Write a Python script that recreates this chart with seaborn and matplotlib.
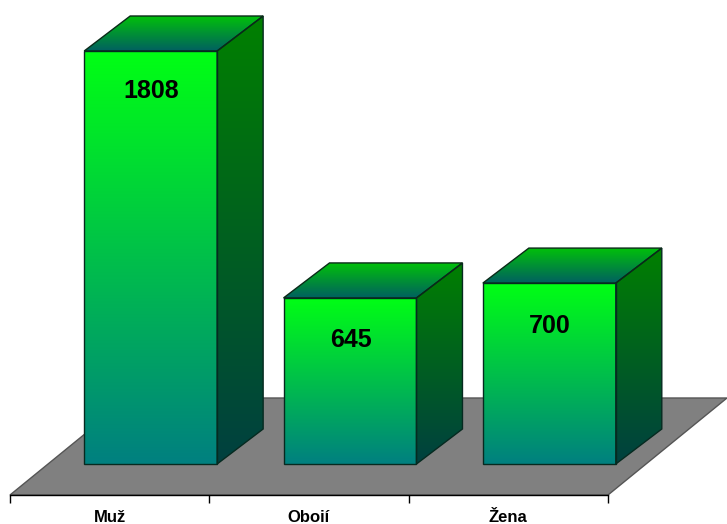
import numpy as np
import pandas as pd
import matplotlib
matplotlib.use("Agg")
import matplotlib.pyplot as plt
from matplotlib.patches import Polygon
import seaborn as sns

# Data
categories = ["Muž", "Oboií", "Žena"]
value_labels = ["1808", "645", "700"]
# drawn bar heights: the original axis is not proportional to the printed labels
bar_heights = [1808, 727, 792]

# Pixel geometry of the fake 3D look
W, H = 727, 524
BASE_PX = 495
CAT_PX = 199.33
LEFT_PX = 10
PX_PER_UNIT = 413 / 1808
FLOOR_DX, FLOOR_DY = 119, 97
BAR_SHIFT_X, BAR_SHIFT_Y = 41, 31
DEPTH_X, DEPTH_Y = 46, 35
LABEL_DROP_PX = [40, 42, 43]


def px_x(px):
    return px / CAT_PX


def px_y(px):
    return px / PX_PER_UNIT


def gradient(ax, extent, top, bottom, clip=None, zorder=3):
    t = np.linspace(0, 1, 256)[:, None, None]
    img = (1 - t) * np.array(top)[None, None, :] + t * np.array(bottom)[None, None, :]
    im = ax.imshow(img / 255, extent=extent, aspect="auto", origin="upper",
                   interpolation="bilinear", zorder=zorder)
    if clip is not None:
        im.set_clip_path(clip)
    return im


sns.set_style("white")
plt.rcParams["font.family"] = ["Liberation Sans", "DejaVu Sans"]

df = pd.DataFrame({"category": categories, "height": bar_heights})

fig = plt.figure(figsize=(W / 100, H / 100), dpi=100)
ax = fig.add_axes([0, (H - BASE_PX) / H, 1, BASE_PX / H])
sns.barplot(data=df, x="category", y="height", width=0.667, ax=ax,
            facecolor="none", edgecolor="#062a20", linewidth=1, zorder=6)

xlim = (-0.5 - px_x(LEFT_PX), -0.5 - px_x(LEFT_PX) + px_x(W))
ylim = (0, px_y(BASE_PX))

# floor
x0, x1 = -0.5, 2.5
floor = Polygon([(x0, 0), (x1, 0), (x1 + px_x(FLOOR_DX), px_y(FLOOR_DY)),
                 (x0 + px_x(FLOOR_DX), px_y(FLOOR_DY))],
                closed=True, facecolor="#808080", edgecolor="#555555",
                linewidth=1, zorder=1, clip_on=True)
ax.add_patch(floor)

# bars
for bar, label, drop in zip(ax.patches[:len(categories)], value_labels, LABEL_DROP_PX):
    bar.set_x(bar.get_x() + px_x(BAR_SHIFT_X))
    bar.set_y(px_y(BAR_SHIFT_Y))
    xa, xb = bar.get_x(), bar.get_x() + bar.get_width()
    yb, yt = bar.get_y(), bar.get_y() + bar.get_height()
    dx, dy = px_x(DEPTH_X), px_y(DEPTH_Y)

    # front face
    gradient(ax, (xa, xb, yb, yt), (0, 255, 20), (0, 128, 128), zorder=3)

    # right side
    side = Polygon([(xb, yb), (xb + dx, yb + dy), (xb + dx, yt + dy), (xb, yt)],
                   closed=True, facecolor="none", edgecolor="#062a20",
                   linewidth=1, zorder=5, transform=ax.transData)
    ax.add_patch(side)
    gradient(ax, (xb, xb + dx, yb, yt + dy), (0, 128, 0), (0, 64, 64), clip=side, zorder=3)

    # top side
    lid = Polygon([(xa, yt), (xb, yt), (xb + dx, yt + dy), (xa + dx, yt + dy)],
                  closed=True, facecolor="none", edgecolor="#0a2a18",
                  linewidth=1, zorder=5, transform=ax.transData)
    ax.add_patch(lid)
    gradient(ax, (xa, xb + dx, yt, yt + dy), (0, 192, 10), (0, 96, 96), clip=lid, zorder=3)

    ax.annotate(label, ((xa + xb) / 2, yt), xytext=(0.9 * 0.72, -drop * 0.72), textcoords="offset points",
                ha="center", va="center", fontsize=18, fontweight="bold", color="black", zorder=7)

ax.set_xlim(*xlim)
ax.set_ylim(*ylim)

# axis: labels in the middle of each category, ticks on the boundaries
sns.despine(ax=ax, left=True, top=True, right=True)
ax.spines["bottom"].set_bounds(x0, x1)
ax.spines["bottom"].set_color("black")
ax.spines["bottom"].set_linewidth(1)
ax.set_xlabel("")
ax.set_ylabel("")
ax.set_yticks([])
ax.set_xticks(range(len(categories)))
ax.set_xticklabels(categories, fontsize=12, fontweight="bold", color="black")
ax.tick_params(axis="x", which="major", length=0, pad=10.5)
ax.set_xticks([x0, 0.5, 1.5, x1], minor=True)
ax.tick_params(axis="x", which="minor", bottom=True, length=6, width=1, color="black")
ax.patch.set_alpha(0)

fig.savefig("out.png", dpi=100)
